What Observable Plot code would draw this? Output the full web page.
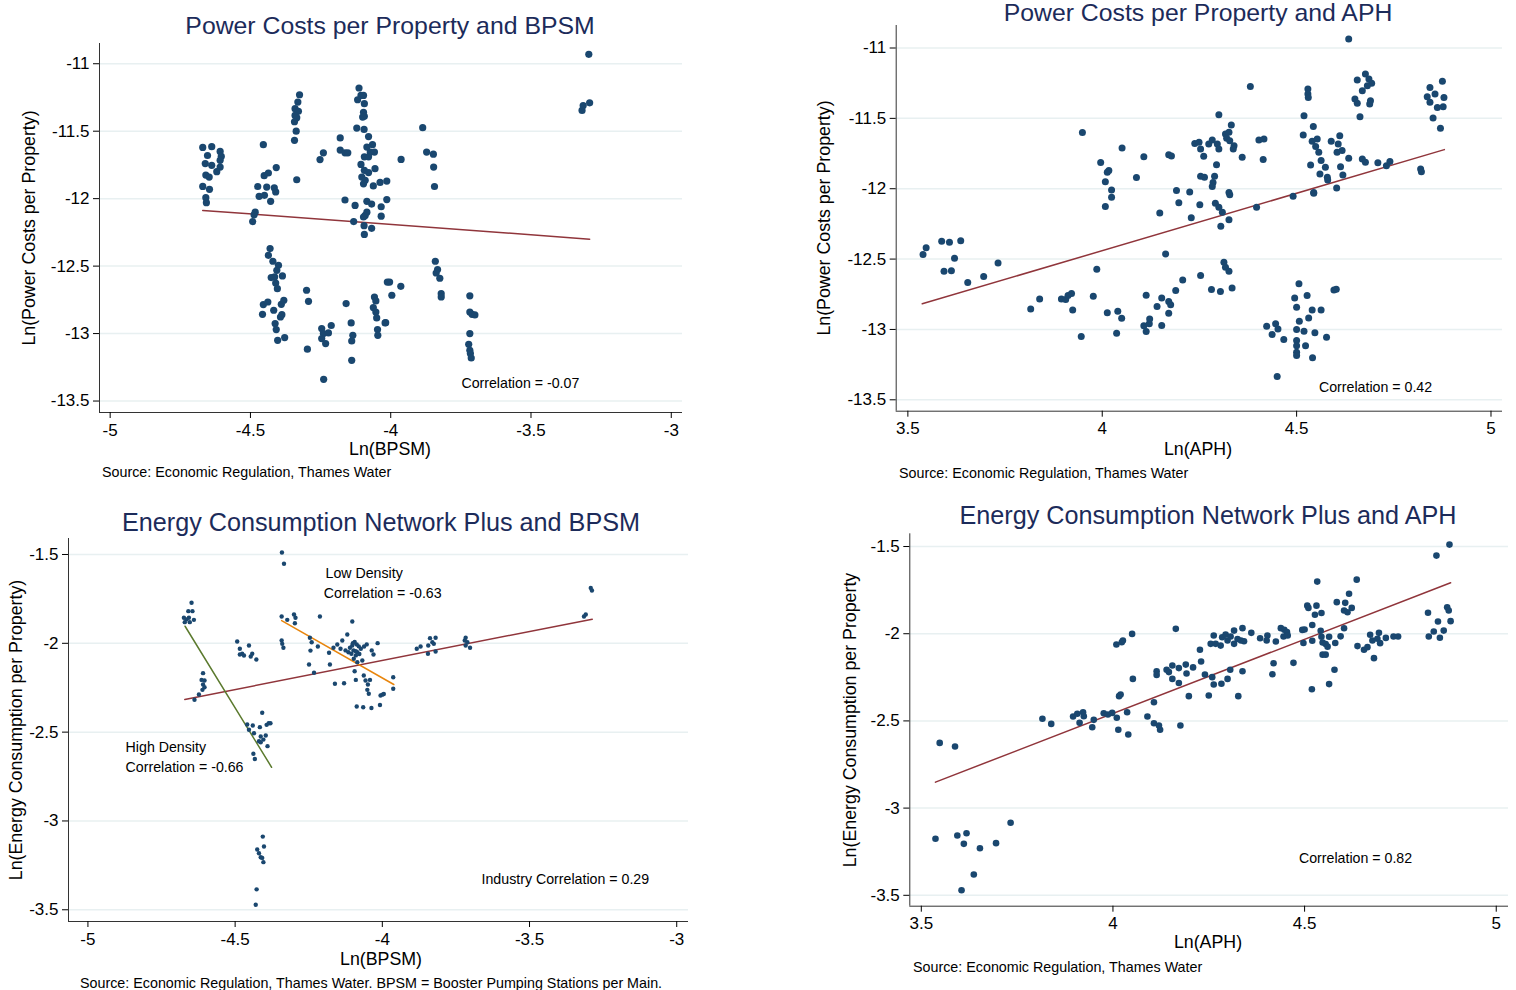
<!DOCTYPE html>
<html>
<head>
<meta charset="utf-8">
<script src="https://cdn.jsdelivr.net/npm/d3@7"></script>
<script src="https://cdn.jsdelivr.net/npm/@observablehq/plot@0.6"></script>
<style>
  html, body { margin: 0; padding: 0; background: #fff; }
  #root { position: relative; width: 1516px; height: 990px; overflow: hidden; background: #fff; font-family: "Liberation Sans", Arial, Helvetica, sans-serif; }
  .t { position: absolute; white-space: nowrap; line-height: 1; color: #000; }
  .p { position: absolute; }
</style>
</head>
<body>
<div id="root"></div>
<script>
// ---------------- DATA ----------------
// Panel 1: Ln(BPSM) vs Ln(Power Costs per Property)
const bpsmPower = [
  [-4.670,-11.62],[-4.638,-11.615],[-4.653,-11.68],[-4.608,-11.65],[-4.604,-11.687],[-4.608,-11.716],[-4.661,-11.74],[-4.638,-11.753],[-4.608,-11.766],[-4.620,-11.80],[-4.659,-11.825],[-4.647,-11.84],[-4.670,-11.909],[-4.646,-11.931],[-4.659,-11.993],[-4.657,-12.03],
  [-4.454,-11.60],[-4.408,-11.77],[-4.436,-11.81],[-4.451,-11.83],[-4.474,-11.91],[-4.442,-11.914],[-4.415,-11.92],[-4.41,-11.95],[-4.469,-11.983],[-4.45,-11.975],[-4.428,-12.02],[-4.483,-12.10],[-4.487,-12.12],[-4.492,-12.17],
  [-4.325,-11.23],[-4.331,-11.284],[-4.341,-11.333],[-4.329,-11.353],[-4.341,-11.383],[-4.335,-11.40],[-4.343,-11.43],[-4.337,-11.50],[-4.343,-11.568],[-4.335,-11.86],
  [-4.252,-11.71],[-4.24,-11.66],[-4.18,-11.55],[-4.18,-11.64],[-4.163,-11.66],[-4.153,-11.66],[-4.163,-12.01],[-4.127,-12.05],[-4.132,-12.17],
  [-4.113,-11.18],[-4.106,-11.235],[-4.097,-11.235],[-4.118,-11.267],[-4.094,-11.296],[-4.097,-11.36],[-4.094,-11.39],[-4.10,-11.395],[-4.121,-11.477],[-4.095,-11.487],[-4.079,-11.54],[-4.085,-11.618],[-4.065,-11.60],[-4.073,-11.655],[-4.058,-11.655],[-4.094,-11.69],[-4.079,-11.69],[-4.106,-11.746],[-4.056,-11.778],[-4.094,-11.79],[-4.079,-11.807],[-4.103,-11.84],[-4.091,-11.864],[-4.097,-11.89],[-4.062,-11.906],[-4.038,-11.88],[-4.014,-11.87],[-4.085,-12.02],[-4.068,-12.04],[-4.034,-12.06],[-4.034,-12.13],[-4.085,-12.10],[-4.091,-12.124],[-4.097,-12.136],[-4.095,-12.20],[-4.068,-12.22],[-4.094,-12.265],[-4.014,-12.007],
  [-3.294,-10.93],[-3.291,-11.29],[-3.318,-11.346],[-3.314,-11.31],[-3.886,-11.474],[-3.872,-11.655],[-3.848,-11.67],[-3.847,-11.766],[-3.844,-11.91],[-3.963,-11.709],
  [-3.841,-12.464],[-3.833,-12.526],[-3.838,-12.551],[-3.825,-12.59],[-3.82,-12.704],[-3.82,-12.729],[-4.004,-12.618],[-3.996,-12.716],[-3.964,-12.65],[-4.018,-12.919],[-3.718,-12.72],[-3.718,-12.84],[-3.71,-12.857],[-3.70,-12.862],[-3.718,-13.0],[-3.722,-13.08],[-3.718,-13.124],[-3.716,-13.148],[-3.713,-13.181],
  [-4.43,-12.37],[-4.436,-12.42],[-4.42,-12.464],[-4.40,-12.494],[-4.406,-12.531],[-4.426,-12.585],[-4.414,-12.58],[-4.386,-12.573],[-4.41,-12.625],[-4.404,-12.667],[-4.454,-12.785],[-4.438,-12.766],[-4.457,-12.857],[-4.417,-12.827],[-4.39,-12.783],[-4.381,-12.753],[-4.393,-12.877],[-4.388,-12.86],[-4.412,-12.926],[-4.408,-12.97],[-4.403,-13.05],[-4.378,-13.03],[-4.30,-12.679],[-4.293,-12.761],[-4.297,-13.116],[-4.246,-12.963],[-4.24,-13.0],[-4.246,-13.037],[-4.232,-13.074],[-4.212,-12.94],[-4.222,-12.995],[-4.239,-13.339],[-4.159,-12.778],[-4.141,-12.921],[-4.135,-13.013],[-4.139,-13.055],[-4.139,-13.198],[-4.058,-12.729],[-4.053,-12.758],[-4.062,-12.807],[-4.053,-12.84],[-4.05,-12.884],[-4.047,-12.97],[-4.046,-13.013],[-4.02,-12.921],[-4.012,-12.618]
];
// Panel 2: Ln(APH) vs Ln(Power Costs per Property)
const aphPower = [
  [3.949,-11.60],[3.996,-11.813],[4.017,-11.871],[4.013,-11.883],[4.008,-11.95],[4.024,-12.009],[4.024,-12.061],[4.008,-12.127],[4.051,-11.71],[4.107,-11.772],[4.088,-11.921],[4.171,-11.758],[4.178,-11.767],[4.191,-12.013],[4.197,-12.10],[4.225,-12.023],[4.148,-12.172],[4.229,-12.207],[4.238,-11.678],[4.249,-11.67],[4.253,-11.717],[4.253,-11.912],[4.251,-12.113],
  [3.539,-12.468],[3.547,-12.42],[3.587,-12.374],[3.607,-12.381],[3.636,-12.369],[3.62,-12.494],[3.593,-12.587],[3.612,-12.582],[3.654,-12.667],[3.695,-12.624],[3.732,-12.527],[3.816,-12.854],[3.839,-12.783],[3.895,-12.783],[3.906,-12.788],[3.912,-12.759],[3.921,-12.745],[3.924,-12.861],[3.946,-13.05],[3.977,-12.764],[3.986,-12.572],[4.013,-12.882],[4.04,-12.871],[4.05,-12.92],[4.037,-13.027],[4.113,-12.757],[4.107,-12.974],[4.121,-12.96],[4.122,-12.925],[4.113,-13.015],[4.141,-12.837],[4.153,-12.776],[4.171,-12.802],[4.176,-12.825],[4.171,-12.885],[4.153,-12.972],[4.189,-12.724],[4.207,-12.648],[4.163,-12.463],[4.253,-12.617],
  [4.634,-10.936],[4.381,-11.273],[4.529,-11.291],[4.529,-11.327],[4.53,-11.351],[4.656,-11.227],[4.677,-11.185],[4.686,-11.22],[4.693,-11.251],[4.682,-11.268],[4.669,-11.303],[4.65,-11.362],[4.656,-11.393],[4.69,-11.374],[4.688,-11.398],[4.663,-11.488],
  [4.843,-11.28],[4.875,-11.237],[4.856,-11.327],[4.836,-11.346],[4.843,-11.386],[4.862,-11.422],[4.877,-11.417],[4.879,-11.351],[4.851,-11.497],[4.87,-11.571],[4.819,-11.859],[4.821,-11.879],
  [4.519,-11.481],[4.517,-11.618],[4.543,-11.557],[4.54,-11.663],[4.553,-11.646],[4.549,-11.70],[4.557,-11.741],[4.563,-11.80],[4.536,-11.831],[4.574,-11.848],[4.56,-11.895],[4.579,-11.919],[4.58,-11.938],[4.544,-12.026],[4.603,-11.994],[4.491,-12.054],[4.544,-12.033],
  [4.589,-11.663],[4.611,-11.623],[4.607,-11.682],[4.604,-11.741],[4.617,-11.729],[4.613,-11.843],[4.619,-11.902],[4.634,-11.784],[4.669,-11.788],[4.677,-11.812],[4.709,-11.815],[4.731,-11.836],[4.74,-11.806],
  [4.261,-11.77],[4.274,-11.682],[4.283,-11.653],[4.296,-11.682],[4.30,-11.717],[4.30,-11.474],[4.317,-11.611],[4.32,-11.642],[4.326,-11.599],[4.332,-11.547],[4.328,-11.659],[4.339,-11.694],[4.337,-11.717],[4.36,-11.777],[4.294,-11.829],[4.403,-11.653],[4.416,-11.646],[4.414,-11.793],
  [4.263,-11.919],[4.289,-11.912],[4.285,-11.955],[4.283,-11.985],[4.326,-12.026],[4.328,-12.042],[4.291,-12.103],[4.30,-12.132],[4.309,-12.167],[4.326,-12.221],[4.305,-12.267],[4.397,-12.132],
  [4.313,-12.523],[4.317,-12.558],[4.326,-12.587],[4.281,-12.717],[4.304,-12.731],[4.334,-12.705],[4.596,-12.719],[4.602,-12.715],
  [4.506,-12.676],[4.495,-12.776],[4.527,-12.759],[4.50,-12.842],[4.54,-12.861],[4.563,-12.861],[4.531,-12.918],[4.507,-12.942],[4.423,-12.977],[4.446,-12.96],[4.437,-13.036],[4.452,-12.996],[4.50,-13.001],[4.519,-13.013],[4.547,-13.024],[4.577,-13.056],[4.467,-13.072],[4.50,-13.079],[4.50,-13.115],[4.523,-13.115],[4.50,-13.162],[4.50,-13.186],[4.541,-13.202],[4.45,-13.334]
];
// Panel 3: Ln(BPSM) vs Ln(Energy Consumption per Property)
const bpsmEnergy = [
  [-4.648,-1.772],[-4.659,-1.819],[-4.645,-1.819],[-4.674,-1.856],[-4.665,-1.866],[-4.657,-1.856],[-4.64,-1.868],[-4.671,-1.881],[-4.654,-1.881],
  [-4.609,-2.168],[-4.614,-2.206],[-4.604,-2.209],[-4.609,-2.232],[-4.604,-2.247],[-4.611,-2.262],[-4.623,-2.288],[-4.638,-2.318],
  [-4.493,-1.99],[-4.484,-2.031],[-4.476,-2.059],[-4.47,-2.069],[-4.484,-2.063],[-4.453,-2.012],[-4.442,-2.059],[-4.447,-2.074],[-4.428,-2.091],
  [-4.408,-2.391],[-4.459,-2.457],[-4.44,-2.463],[-4.453,-2.487],[-4.436,-2.506],[-4.416,-2.472],[-4.393,-2.459],[-4.386,-2.45],[-4.38,-2.45],[-4.396,-2.519],[-4.413,-2.525],[-4.404,-2.542],[-4.419,-2.551],[-4.413,-2.557],[-4.39,-2.579],[-4.438,-2.622],[-4.433,-2.651],
  [-4.406,-3.088],[-4.402,-3.144],[-4.425,-3.161],[-4.419,-3.182],[-4.413,-3.204],[-4.408,-3.208],[-4.404,-3.232],[-4.427,-3.385],[-4.43,-3.472],
  [-4.341,-1.489],[-4.334,-1.552],
  [-4.342,-1.849],[-4.323,-1.868],[-4.30,-1.838],[-4.295,-1.856],[-4.297,-1.887],[-4.342,-1.984],[-4.34,-2.003],[-4.336,-2.025],[-4.212,-1.849],
  [-4.246,-1.969],[-4.24,-1.994],[-4.244,-2.041],[-4.219,-2.018],[-4.249,-2.119],[-4.232,-2.166],
  [-4.181,-2.053],[-4.178,-2.119],[-4.161,-2.228],[-4.13,-2.225],[-4.166,-2.025],[-4.153,-2.007],[-4.136,-1.984],[-4.119,-1.95],[-4.102,-1.877],
  [-4.11,-2.025],[-4.102,-2.012],[-4.094,-1.993],[-4.087,-2.006],[-4.08,-2.017],[-4.098,-2.04],[-4.085,-2.05],[-4.105,-2.059],[-4.09,-2.068],[-4.073,-2.031],[-4.062,-2.018],[-4.053,-2.006],[-4.142,-2.031],[-4.125,-2.04],[-4.097,-2.087],[-4.085,-2.106],[-4.068,-2.097],[-4.10,-2.0],[-4.09,-2.045],[-4.078,-2.06],[-4.115,-2.05],
  [-4.036,-2.04],[-4.03,-2.063],[-4.016,-1.999],[-4.094,-2.157],[-4.09,-2.206],[-4.063,-2.181],[-4.057,-2.209],[-4.049,-2.232],[-4.051,-2.262],[-4.046,-2.284],[-4.042,-2.206],[-4.006,-2.294],[-4.0,-2.289],[-3.995,-2.285],[-4.008,-2.347],[-3.963,-2.191],[-3.963,-2.256],[-4.087,-2.356],[-4.065,-2.36],[-4.037,-2.364],
  [-3.883,-2.031],[-3.87,-2.018],[-3.844,-2.012],[-3.838,-1.971],[-3.819,-1.969],[-3.83,-1.994],[-3.825,-2.003],[-3.845,-2.059],[-3.819,-2.046],
  [-3.717,-1.969],[-3.72,-1.984],[-3.711,-1.994],[-3.717,-2.012],[-3.702,-2.025],
  [-3.315,-1.849],[-3.309,-1.838],[-3.292,-1.688],[-3.288,-1.703]
];
// Panel 4: Ln(APH) vs Ln(Energy Consumption per Property)
const aphEnergy = [
  [3.548,-2.626],[3.588,-2.647],[3.537,-3.176],[3.594,-3.157],[3.618,-3.144],[3.611,-3.205],[3.653,-3.23],[3.695,-3.201],[3.733,-3.084],[3.637,-3.381],[3.605,-3.471],
  [3.816,-2.488],[3.839,-2.517],[3.896,-2.475],[3.907,-2.459],[3.922,-2.45],[3.924,-2.473],[3.913,-2.511],[3.946,-2.536],[3.95,-2.494],[3.976,-2.456],[3.987,-2.463],[3.998,-2.454],[4.01,-2.482],[4.014,-2.551],[4.04,-2.578],[4.123,-2.551],
  [4.009,-2.062],[4.023,-2.049],[4.026,-2.039],[4.05,-2.001],[4.052,-2.259],[4.016,-2.358],[4.02,-2.349],[4.037,-2.45],[4.09,-2.475],[4.107,-2.393],[4.107,-2.513],[4.12,-2.526],
  [4.114,-2.215],[4.114,-2.236],[4.14,-2.207],[4.146,-2.22],[4.155,-2.182],[4.155,-2.259],[4.172,-2.197],[4.172,-2.283],[4.192,-2.228],[4.19,-2.177],[4.209,-2.193],[4.198,-2.358],[4.164,-1.972],[4.227,-2.092],[4.23,-2.159],[4.24,-2.234],[4.255,-2.058],[4.25,-2.354],[4.176,-2.526],
  [4.259,-2.249],[4.263,-2.291],[4.283,-2.287],[4.299,-2.259],[4.306,-2.207],[4.327,-2.358],[4.338,-2.215],[4.263,-2.01],[4.268,-2.058],[4.281,-2.068],[4.285,-2.02],[4.294,-2.005],[4.299,-2.039],[4.307,-2.016],[4.316,-1.982],[4.316,-2.058],[4.325,-2.03],[4.334,-2.039],[4.338,-1.968],[4.342,-2.043],[4.361,-1.995],[4.384,-2.026],[4.403,-2.01],[4.401,-2.039],[4.425,-2.045],[4.419,-2.169],[4.416,-2.232],[4.438,-1.968],[4.447,-1.977],[4.454,-1.991],[4.445,-2.016],[4.456,-2.01],[4.471,-2.167],
  [4.494,-1.978],[4.5,-1.976],[4.497,-2.053],[4.507,-1.839],[4.51,-1.852],[4.531,-1.839],[4.533,-1.701],[4.527,-1.891],[4.544,-1.881],[4.52,-1.95],[4.52,-2.04],[4.542,-1.983],[4.544,-2.017],[4.547,-2.05],[4.555,-2.059],[4.564,-2.017],[4.56,-2.074],[4.547,-2.12],[4.555,-2.12],[4.58,-2.053],[4.594,-2.015],[4.603,-1.969],[4.584,-1.819],[4.606,-1.823],[4.616,-1.771],[4.603,-1.867],[4.612,-1.877],[4.623,-1.852],[4.636,-1.69],[4.578,-2.207],[4.564,-2.289],[4.519,-2.318],[4.638,-2.071],[4.655,-2.092],[4.664,-2.077],[4.671,-2.006],[4.681,-2.14],[4.677,-2.039],[4.69,-2.029],[4.694,-1.995],[4.697,-2.054],[4.712,-2.024],[4.732,-2.016],[4.744,-2.016],
  [4.822,-1.88],[4.848,-1.93],[4.824,-2.016],[4.837,-1.987],[4.853,-2.023],[4.863,-1.982],[4.872,-1.848],[4.876,-1.867],[4.881,-1.928],[4.844,-1.552],[4.878,-1.489]
];
// Fitted lines (endpoints)
const fitBpsmPower = [[-4.67,-12.087],[-3.291,-12.30]];
const fitAphPower = [[3.537,-12.818],[4.88,-11.722]];
const fitBpsmEnergy = [[-4.671,-2.316],[-3.287,-1.864]];
const fitHighDensity = [[-4.67,-1.904],[-4.376,-2.698]];
const fitLowDensity = [[-4.342,-1.872],[-3.961,-2.232]];
const fitAphEnergy = [[3.537,-2.851],[4.881,-1.708]];
// Tick values
const bpsmTicks = [-5,-4.5,-4,-3.5,-3];
const aphTicks = [3.5,4,4.5,5];
const powerTicks = [-11,-11.5,-12,-12.5,-13,-13.5];
const energyTicks = [-1.5,-2,-2.5,-3,-3.5];
// Annotations
const notes1 = [{x:-3.538, y:-13.368, text:"Correlation = -0.07", anchor:"middle"}];
const notes2 = [{x:4.703, y:-13.413, text:"Correlation = 0.42", anchor:"middle"}];
const notes3 = [
  {x:-4.193, y:-1.607, text:"Low Density", anchor:"start"},
  {x:-4.199, y:-1.72, text:"Correlation = -0.63", anchor:"start"},
  {x:-4.872, y:-2.587, text:"High Density", anchor:"start"},
  {x:-4.872, y:-2.699, text:"Correlation = -0.66", anchor:"start"},
  {x:-3.663, y:-3.33, text:"Industry Correlation = 0.29", anchor:"start"}
];
const notes4 = [{x:4.633, y:-3.289, text:"Correlation = 0.82", anchor:"middle"}];

// ---------------- DRAWING ----------------
const root = document.getElementById("root");
const FONT = '"Liberation Sans", Arial, Helvetica, sans-serif';
const NAVY = "#1a476f";
const MAROON = "#90353b";
const TITLE = "#1c2b5a";
const GRID = "#e8f0f1";
const fmt = d => String(d);

function addText(txt, x, y, {size = 17.8, color = "#000", anchor = "middle", rotate = false} = {}) {
  const el = document.createElement("div");
  el.className = "t";
  el.textContent = txt;
  el.style.left = x + "px";
  el.style.top = y + "px";
  el.style.fontSize = size + "px";
  el.style.color = color;
  const tx = anchor === "middle" ? "-50%" : "0";
  el.style.transform = `translate(${tx},-50%)` + (rotate ? " rotate(-90deg)" : "");
  if (rotate) el.style.transformOrigin = "center center";
  root.appendChild(el);
}

function panel(cfg) {
  const marks = [
    Plot.gridY(cfg.yTicks, {stroke: GRID, strokeOpacity: 1, strokeWidth: 1.5}),
    Plot.ruleX([cfg.xDomain[0]], {stroke: "#333", strokeWidth: 1}),
    Plot.ruleY([cfg.yDomain[0]], {stroke: "#333", strokeWidth: 1}),
    Plot.axisX(cfg.xTicks, {tickSize: 6, tickPadding: 5, fontSize: 17, tickFormat: fmt, label: null, color: "#000"}),
    Plot.axisY(cfg.yTicks, {tickSize: 6, tickPadding: 4, fontSize: 17, tickFormat: fmt, label: null, color: "#000"}),
    ...cfg.lines.map(l => Plot.line(l.data, {x: d => d[0], y: d => d[1], stroke: l.color, strokeWidth: 1.5})),
    Plot.dot(cfg.points, {x: d => d[0], y: d => d[1], r: cfg.r, fill: NAVY}),
    Plot.text(cfg.notes.filter(d => d.anchor === "middle"), {x: "x", y: "y", text: "text", textAnchor: "middle", fontSize: 14.2, fill: "#000"}),
    Plot.text(cfg.notes.filter(d => d.anchor === "start"), {x: "x", y: "y", text: "text", textAnchor: "start", fontSize: 14.2, fill: "#000"})
  ];
  const svg = Plot.plot({
    width: cfg.w, height: cfg.h,
    marginLeft: cfg.ml, marginRight: cfg.mr, marginTop: cfg.mt, marginBottom: cfg.mb,
    x: {domain: cfg.xDomain},
    y: {domain: cfg.yDomain},
    style: {fontFamily: FONT, background: "transparent", overflow: "visible", maxWidth: "none"},
    marks
  });
  svg.classList.add("p");
  svg.style.left = cfg.left + "px";
  svg.style.top = cfg.top + "px";
  root.appendChild(svg);
}

// Panel 1
panel({
  left: 0, top: 0, w: 740, h: 445, ml: 99, mr: 58, mt: 43, mb: 33,
  xDomain: [-5.038, -2.96], yDomain: [-13.585, -10.85],
  xTicks: bpsmTicks, yTicks: powerTicks, points: bpsmPower, r: 3.6,
  lines: [{data: fitBpsmPower, color: MAROON}], notes: notes1
});
// Panel 2
panel({
  left: 760, top: 0, w: 756, h: 445, ml: 135.7, mr: 14, mt: 25, mb: 34.3,
  xDomain: [3.470, 5.0296], yDomain: [-13.581, -10.84],
  xTicks: aphTicks, yTicks: powerTicks, points: aphPower, r: 3.5,
  lines: [{data: fitAphPower, color: MAROON}], notes: notes2
});
// Panel 3
panel({
  left: 0, top: 495, w: 740, h: 460, ml: 68, mr: 52, mt: 43, mb: 34,
  xDomain: [-5.066, -2.96], yDomain: [-3.566, -1.41],
  xTicks: bpsmTicks, yTicks: energyTicks, points: bpsmEnergy, r: 2.2,
  lines: [{data: fitBpsmEnergy, color: MAROON}, {data: fitHighDensity, color: "#5b7a2e"}, {data: fitLowDensity, color: "#e8850c"}],
  notes: notes3
});
// Panel 4
panel({
  left: 760, top: 495, w: 756, h: 445, ml: 149.3, mr: 8, mt: 38.3, mb: 34.3,
  xDomain: [3.470, 5.032], yDomain: [-3.5625, -1.427],
  xTicks: aphTicks, yTicks: energyTicks, points: aphEnergy, r: 3.3,
  lines: [{data: fitAphEnergy, color: MAROON}], notes: notes4
});

// Titles
addText("Power Costs per Property and BPSM", 390, 26, {size: 24.8, color: TITLE});
addText("Power Costs per Property and APH", 1198, 13, {size: 24.8, color: TITLE});
addText("Energy Consumption Network Plus and BPSM", 381, 523, {size: 25.2, color: TITLE});
addText("Energy Consumption Network Plus and APH", 1208, 516, {size: 25.2, color: TITLE});
// Axis titles
addText("Ln(BPSM)", 390, 450);
addText("Ln(APH)", 1198, 450);
addText("Ln(BPSM)", 381, 960);
addText("Ln(APH)", 1208, 943);
addText("Ln(Power Costs per Property)", 30, 228, {rotate: true});
addText("Ln(Power Costs per Property)", 825, 218, {rotate: true});
addText("Ln(Energy Consumption per Property)", 17, 730, {rotate: true});
addText("Ln(Energy Consumption per Property", 851, 720, {rotate: true});
// Sources
addText("Source: Economic Regulation, Thames Water", 102, 472, {size: 14.3, anchor: "start"});
addText("Source: Economic Regulation, Thames Water", 899, 473, {size: 14.3, anchor: "start"});
addText("Source: Economic Regulation, Thames Water. BPSM = Booster Pumping Stations per Main.", 80, 983, {size: 14.3, anchor: "start"});
addText("Source: Economic Regulation, Thames Water", 913, 967, {size: 14.3, anchor: "start"});
</script>
</body>
</html>
